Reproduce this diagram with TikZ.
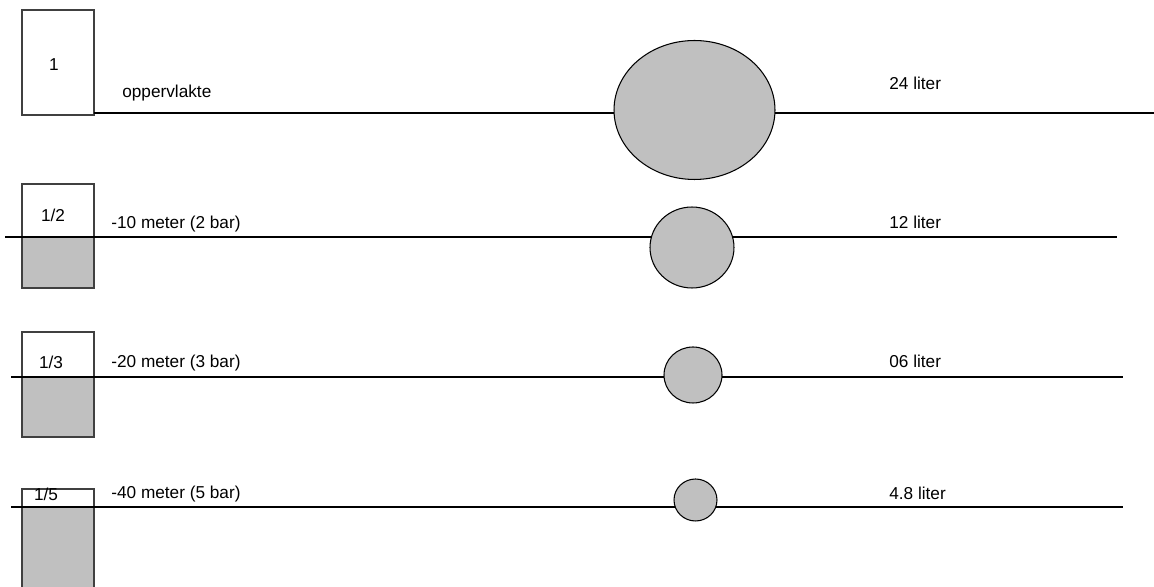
\documentclass[tikz,border=0pt]{standalone}
\usepackage{fontspec}
\setmainfont{Liberation Sans}
\usetikzlibrary{shapes.geometric}
\definecolor{bubbleGray}{RGB}{192,192,192}

\begin{document}
\begin{tikzpicture}[x=0.02cm,y=-0.02cm,
    lbl/.style={font=\fontsize{9.8}{11}\selectfont, inner sep=0pt},
    level/.style={line width=0.6pt},
    jar/.style={draw=black!75, line width=0.6pt},
    bubble/.style={ellipse, draw, fill=bubbleGray, line width=0.6pt, inner sep=0pt}]
  \useasboundingbox (0,0) rectangle (1154,587);

  % surface
  \draw[jar, fill=white] (22,10) rectangle (94,115);
  \node[lbl] (f1) at (54,65) {1};
  \coordinate (s1) at (94,113);
  \coordinate (e1) at (1154,113);
  \draw[level] (s1) -- (e1);
  \node[lbl, anchor=west] (d1) at (122,93) {oppervlakte};
  \node[bubble, minimum width=3.22cm, minimum height=2.78cm] (b1) at (694.5,110) {};
  \node[lbl, anchor=west] (v1) at (889,83) {24 liter};

  % -10 meter
  \fill[bubbleGray] (22,237) rectangle (94,288);
  \draw[jar] (22,184) rectangle (94,288);
  \node[lbl] (f2) at (53,215) {1/2};
  \coordinate (s2) at (5,237);
  \coordinate (e2) at (1117,237);
  \draw[level] (s2) -- (e2);
  \node[lbl, anchor=west] (d2) at (111,224) {-10 meter (2 bar)};
  \node[bubble, minimum width=1.68cm, minimum height=1.62cm] (b2) at (692,247.5) {};
  \node[lbl, anchor=west] (v2) at (889,222) {12 liter};

  % -20 meter
  \fill[bubbleGray] (22,377) rectangle (94,437);
  \draw[jar] (22,332) rectangle (94,437);
  \node[lbl] (f3) at (51,362) {1/3};
  \coordinate (s3) at (11,377);
  \coordinate (e3) at (1123,377);
  \draw[level] (s3) -- (e3);
  \node[lbl, anchor=west] (d3) at (111,363) {-20 meter (3 bar)};
  \node[bubble, minimum width=1.16cm, minimum height=1.12cm] (b3) at (693,375) {};
  \node[lbl, anchor=west] (v3) at (889,361.5) {06 liter};

  % -40 meter
  \fill[bubbleGray] (22,507) rectangle (94,595);
  \draw[jar] (22,489) rectangle (94,595);
  \node[lbl] (f4) at (46,494) {1/5};
  \coordinate (s4) at (11,507);
  \coordinate (e4) at (1123,507);
  \draw[level] (s4) -- (e4);
  \node[lbl, anchor=west] (d4) at (111,494) {-40 meter (5 bar)};
  \node[bubble, minimum width=0.86cm, minimum height=0.84cm] (b4) at (695.5,500) {};
  \node[lbl, anchor=west] (v4) at (889,493) {4.8 liter};
\end{tikzpicture}
\end{document}
